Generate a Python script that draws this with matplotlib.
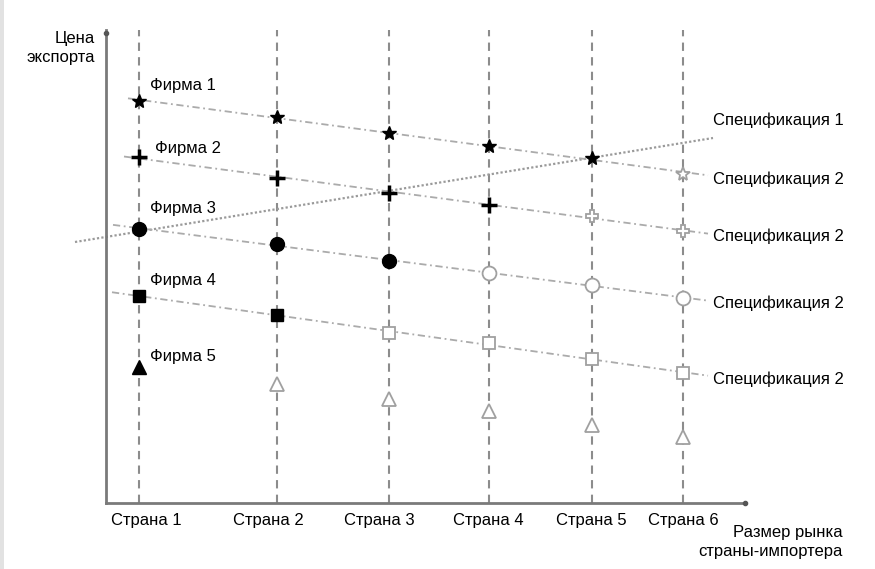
import numpy as np
import matplotlib
matplotlib.use("Agg")
import matplotlib.pyplot as plt
from matplotlib.patches import Rectangle

plt.rcParams['font.family'] = ['Liberation Sans', 'DejaVu Sans']

# market size position of each importer country
countries = ['Страна 1', 'Страна 2', 'Страна 3', 'Страна 4', 'Страна 5', 'Страна 6']
market_size = [0.33, 1.71, 2.83, 3.83, 4.86, 5.77]

# export price of each firm in each country
firms = ['Фирма 1', 'Фирма 2', 'Фирма 3', 'Фирма 4', 'Фирма 5']
price_f1 = [4.02, 3.86, 3.70, 3.57, 3.45, 3.29]
price_f2 = [3.46, 3.25, 3.10, 2.98, 2.87, 2.72]
price_f3 = [2.74, 2.59, 2.42, 2.30, 2.18, 2.05]
price_f4 = [2.07, 1.88, 1.70, 1.60, 1.44, 1.30]
price_f5 = [1.36, 1.19, 1.04, 0.92, 0.78, 0.66]
prices = [price_f1, price_f2, price_f3, price_f4, price_f5]
# how many countries (from the left) the firm serves with specification 1
n_spec1 = [5, 4, 3, 2, 1]

# specification 1 threshold line (two ends)
spec1_x = [-0.31, 6.07]
spec1_y = [2.61, 3.65]

markers = ['*', 'P', 'o', 's', '^']
msizes = [10, 9, 10, 9, 9.5]

fig = plt.figure(figsize=(8.75, 5.69), dpi=100)
fig.add_artist(Rectangle((0, 0), 4 / 875, 1, transform=fig.transFigure,
                         color='#e2e2e2', lw=0))
ax = fig.add_axes([106 / 875, 66 / 569, 639 / 875, 473 / 569])
ax.set_xlim(0, 6.39)
ax.set_ylim(0, 4.73)

# vertical country lines
for x in market_size:
    ax.axvline(x, color='#8c8c8c', lw=1.5, ls=(0, (4, 3)), zorder=1)

# specification 1 line
ax.plot(spec1_x, spec1_y, color='#9a9a9a', lw=1.6, ls=(0, (1, 1)),
        clip_on=False, zorder=2)

# firm price lines and markers
line_start = [0.22, 0.18, 0.07, 0.06]
line_end = 6.02
for i, (p, m, ms, n) in enumerate(zip(prices, markers, msizes, n_spec1)):
    if i < 4:
        k, b = np.polyfit(market_size, p, 1)
        xs = np.array([line_start[i], line_end])
        ax.plot(xs, k * xs + b, color='#ababab', lw=1.3,
                ls=(0, (4, 2, 1, 2)), zorder=2)
    if m == 'P':
        ax.plot(market_size[:n], p[:n], ls='none', marker='+', ms=12,
                mec='black', mew=2.5, zorder=4)
    else:
        ax.plot(market_size[:n], p[:n], ls='none', marker=m, ms=ms,
                mfc='black', mec='black', zorder=4)
    ax.plot(market_size[n:], p[n:], ls='none', marker=m, ms=ms,
            mfc='white', mec='#a0a0a0', mew=1.3, zorder=4)

# firm labels
firm_lx = [0.44, 0.49, 0.44, 0.44, 0.44]
firm_ly = [4.18, 3.55, 2.95, 2.22, 1.46]
for name, lx, ly in zip(firms, firm_lx, firm_ly):
    ax.text(lx, ly, name, fontsize=12, ha='left', va='center',
            bbox=dict(facecolor='white', edgecolor='none', pad=0.5))

# specification labels
spec_lx = 6.07
ax.text(spec_lx, 3.83, 'Спецификация 1', fontsize=12, ha='left', va='center',
        clip_on=False)
for ly in [3.24, 2.67, 2.00, 1.24]:
    ax.text(spec_lx, ly, 'Спецификация 2', fontsize=12, ha='left',
            va='center', clip_on=False)

# country labels
label_x = [0.40, 1.62, 2.73, 3.82, 4.85, 5.77]
for x, c in zip(label_x, countries):
    ax.text(x, -0.18, c, fontsize=12, ha='center', va='center',
            clip_on=False)

# axes
for s in ['top', 'right']:
    ax.spines[s].set_visible(False)
for s in ['left', 'bottom']:
    ax.spines[s].set_color('#7a7a7a')
    ax.spines[s].set_linewidth(2)
ax.set_xticks([])
ax.set_yticks([])
ax.plot([0], [4.70], 'o', color='#555555', ms=3, clip_on=False, zorder=5)
ax.plot([6.39], [0], 'o', color='#555555', ms=3, clip_on=False, zorder=5)

ax.text(-0.11, 4.55, 'Цена\nэкспорта', fontsize=12, ha='right', va='center',
        linespacing=1.4, clip_on=False)
ax.text(7.37, -0.39, 'Размер рынка\nстраны-импортера', fontsize=12,
        ha='right', va='center', linespacing=1.3, clip_on=False)

fig.savefig('out.png', dpi=100)
